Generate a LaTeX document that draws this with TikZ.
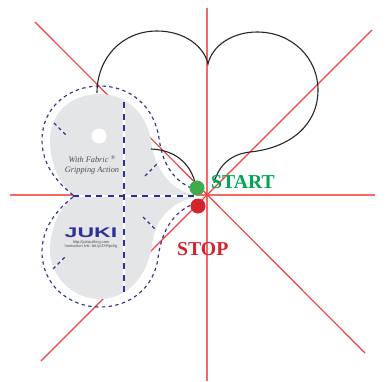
\documentclass[tikz,border=0pt]{standalone}
\usepackage{fontspec}
\setmainfont{Liberation Serif}
\newfontfamily\headfont{Liberation Sans}
\definecolor{redline}{RGB}{238,64,62}
\definecolor{redsoft}{RGB}{244,105,100}
\definecolor{grayfill}{RGB}{228,229,231}
\definecolor{dashblue}{RGB}{46,49,146}
\definecolor{startgreen}{RGB}{0,166,81}
\definecolor{dotgreen}{RGB}{62,172,74}
\definecolor{stopred}{RGB}{209,37,44}
\definecolor{inkgray}{RGB}{77,77,79}
\tikzset{
  guide/.style={draw=redline,line width=1.15pt},
  guidestraight/.style={draw=redsoft,line width=2pt,line cap=butt},
  blackcurve/.style={draw=black!85,line width=1.1pt},
  outlinedash/.style={draw=dashblue,line width=1.15pt,dash pattern=on 3.4pt off 3.4pt},
  foldwhite/.style={draw=white,line width=1.7pt},
  folddash/.style={draw=dashblue,line width=1.6pt,dash pattern=on 6pt off 5.5pt},
  shortdash/.style={draw=dashblue,line width=1.3pt,dash pattern=on 3.5pt off 3pt},
  dot/.style={circle,inner sep=0pt,minimum size=15pt},
  startstyle/.style={inner sep=0pt,font=\fontsize{19.7}{20}\selectfont\bfseries},
}
\begin{document}
\begin{tikzpicture}[x=1pt,y=-1pt]
\useasboundingbox (0,0) rectangle (389,381);
% guide lines
\draw[guidestraight] (207,8) -- (207,381);
\draw[guidestraight] (10,195) -- (375,195);
\draw[guide] (35,22) -- (365,353);
\draw[guide] (41,361) -- (372,30);
% template
\fill[grayfill] (73,195) .. controls (58,182) and (50,162) .. (50,140)
  .. controls (50,112) and (72,94) .. (100,94)
  .. controls (125,94) and (146,112) .. (151,140)
  .. controls (154,165) and (168,191) .. (196,195)
  -- (196,197)
  .. controls (170,202) and (155,220) .. (152,245)
  .. controls (148,275) and (128,299) .. (100,299)
  .. controls (72,299) and (50,276) .. (50,250)
  .. controls (50,230) and (58,210) .. (73,197) -- cycle;
\fill[white] (99,136) circle (7.5);
% fold lines
\draw[foldwhite] (73,196) -- (196,196);
\draw[foldwhite] (124,102) -- (124,292);
\draw[folddash] (73,196) -- (196,196);
\draw[folddash] (124,102) -- (124,292);
\draw[foldwhite,line width=1.2pt] (54,123) -- (66,135);
\draw[foldwhite,line width=1.2pt] (145,176) -- (157,164);
\draw[foldwhite,line width=1.2pt] (143,217) -- (155,229);
\draw[foldwhite,line width=1.2pt] (53,269) -- (65,257);
\draw[shortdash] (54,123) -- (66,135);
\draw[shortdash] (145,176) -- (157,164);
\draw[shortdash] (143,217) -- (155,229);
\draw[shortdash] (53,269) -- (65,257);
% dashed outline
\draw[outlinedash] (73,195) .. controls (54,180) and (42,162) .. (42,140)
  .. controls (42,108) and (68,86) .. (100,86)
  .. controls (130,86) and (154,106) .. (159,138)
  .. controls (162,160) and (170,178) .. (191,188);
\draw[outlinedash] (73,197) .. controls (54,212) and (42,230) .. (42,252)
  .. controls (42,284) and (68,307) .. (100,307)
  .. controls (130,307) and (154,288) .. (158,258)
  .. controls (161,235) and (170,215) .. (191,205);
% stitching
\draw[blackcurve] (97,93) .. controls (97,58) and (122,31) .. (157,31)
  .. controls (184,31) and (204,46) .. (208,64)
  .. controls (212,46) and (232,32) .. (257,32)
  .. controls (292,32) and (318,58) .. (318,90)
  .. controls (318,125) and (290,148) .. (250,152)
  .. controls (232,154) and (219,164) .. (214,183);
\draw[blackcurve] (151,149) .. controls (175,150) and (191,163) .. (196,186);
% dots
\node[dot,fill=dotgreen] (startdot) at (197,188) {};
\node[dot,fill=stopred] (stopdot) at (198,206) {};
\node[startstyle,text=startgreen,anchor=west] (startlabel) at (211,182) {START};
\node[startstyle,text=stopred,anchor=west] (stoplabel) at (177,249) {STOP};
% printed text
\node[inner sep=0pt,text=inkgray,font=\fontsize{8.3}{10.5}\selectfont\itshape,align=center] (brand) at (92,165)
  {With Fabric \textsuperscript{\textregistered}\\Gripping Action};
\node[inner sep=0pt,text=dashblue,font=\headfont\bfseries\fontsize{14}{14}\selectfont] (juki) at (91,233)
  {\scalebox{1.65}[1]{JUKI}};
\node[inner sep=0pt,text=inkgray,font=\headfont\fontsize{3.9}{4.6}\selectfont,align=center] (links) at (91,244.5)
  {http://jukiquilting.com\\Instruction link: bit.ly/2XRpc0g};
\end{tikzpicture}
\end{document}
